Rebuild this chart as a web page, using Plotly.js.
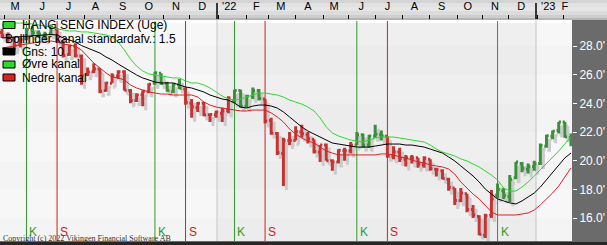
<!DOCTYPE html>
<html>
<head>
<meta charset="utf-8">
<script src="https://cdn.plot.ly/plotly-3.0.1.min.js"></script>
<style>
html,body{margin:0;padding:0;background:#6b6b6b;}
#chart{width:607px;height:245px;}
</style>
</head>
<body>
<div id="chart"></div>
<script>
// ---------- DATA (weekly bars, values in thousands) ----------
const weeks = ['2021-04-30','2021-05-07','2021-05-14','2021-05-21','2021-05-28','2021-06-04','2021-06-11','2021-06-18','2021-06-25','2021-07-02','2021-07-09','2021-07-16','2021-07-23','2021-07-30','2021-08-06','2021-08-13','2021-08-20','2021-08-27','2021-09-03','2021-09-10','2021-09-17','2021-09-24','2021-10-01','2021-10-08','2021-10-15','2021-10-22','2021-10-29','2021-11-05','2021-11-12','2021-11-19','2021-11-26','2021-12-03','2021-12-10','2021-12-17','2021-12-24','2021-12-31','2022-01-07','2022-01-14','2022-01-21','2022-01-28','2022-02-04','2022-02-11','2022-02-18','2022-02-25','2022-03-04','2022-03-11','2022-03-18','2022-03-25','2022-04-01','2022-04-08','2022-04-15','2022-04-22','2022-04-29','2022-05-06','2022-05-13','2022-05-20','2022-05-27','2022-06-03','2022-06-10','2022-06-17','2022-06-24','2022-07-01','2022-07-08','2022-07-15','2022-07-22','2022-07-29','2022-08-05','2022-08-12','2022-08-19','2022-08-26','2022-09-02','2022-09-09','2022-09-16','2022-09-23','2022-09-30','2022-10-07','2022-10-14','2022-10-21','2022-10-28','2022-11-04','2022-11-11','2022-11-18','2022-11-25','2022-12-02','2022-12-09','2022-12-16','2022-12-23','2022-12-30','2023-01-06','2023-01-13','2023-01-20','2023-01-27','2023-02-03','2023-02-10'];

const open = [28.95, 28.70,28.50,28.10,28.50, 29.10,28.90,28.75,28.85, 29.20,28.30,27.40,28.00,27.30, 26.00,26.20,26.40,24.90, 25.40,25.90,26.20,24.90, 24.20,24.60,24.80,25.40,26.10, 25.40,24.80,25.30,25.00, 24.00,23.70,24.00,23.20,23.20,
  23.30,23.50,24.20,24.90, 23.80,24.50,24.90,24.30, 22.80,21.90,20.50,21.40, 21.40,22.00,21.80,21.50,20.60, 21.10,20.00,19.90,20.70, 20.70,21.10,21.80,21.10, 21.70,21.80,21.70,20.30,20.60, 20.10,20.20,20.20,19.70, 20.10,19.40,19.30,18.70,18.10, 17.20,17.70,16.60,16.10, 14.80,16.20,17.60,17.90, 17.50,18.80,19.80,19.40,19.60,
  19.80,21.00,21.70,22.10, 22.70,21.60];
const high = [29.20, 28.95,28.65,28.60,29.25, 29.40,29.10,29.00,29.50, 29.25,28.40,28.10,28.20,27.40, 26.50,26.80,26.40,25.50, 26.10,26.30,26.30,25.00, 24.70,24.90,25.40,26.20,26.10, 25.50,25.40,25.70,25.10, 24.30,24.10,24.10,23.30,23.50,
  23.70,24.50,24.95,24.95, 24.60,25.10,25.00,24.30, 23.00,22.00,21.60,22.00, 22.40,22.50,22.00,21.50,21.10, 21.20,20.10,20.80,20.90, 21.30,22.00,21.90,21.80, 22.50,22.10,21.70,21.00,20.90, 20.40,20.40,20.20,20.30, 20.10,19.50,19.40,18.80,18.10, 18.10,17.70,16.90,16.20, 16.30,17.95,18.40,18.10, 19.00,19.90,19.90,19.80,20.00,
  21.20,21.80,22.10,22.70, 22.70,21.90];
const low = [28.55, 28.20,27.70,27.90,28.40, 28.70,28.60,28.40,28.75, 28.30,27.20,27.30,27.20,25.30, 25.90,26.10,24.70,24.80, 25.40,25.70,24.90,24.00, 24.10,23.80,24.70,25.30,25.30, 24.80,24.70,25.00,23.90, 23.00,23.40,23.10,22.70,23.00,
  22.70,23.30,24.00,23.70, 23.70,24.30,24.20,22.60, 21.80,20.40,18.24,21.10, 21.40,21.60,21.20,20.50,19.90, 20.00,19.30,19.80,20.00, 20.50,21.10,20.90,20.90, 21.60,21.40,20.20,20.10,19.90, 19.60,19.80,19.50,19.50, 19.30,18.90,18.70,17.90,16.90, 17.10,16.40,16.00,14.80, 14.60,16.00,17.40,17.30, 17.10,18.70,19.20,19.10,19.30,
  19.70,20.90,21.50,21.90, 21.60,21.00];
const close = [28.72, 28.61,28.03,28.46,29.12, 28.92,28.84,28.80,29.29, 28.31,27.34,28.00,27.32,25.96, 26.18,26.39,24.85,25.41, 25.90,26.21,24.92,24.19, 24.58,24.84,25.33,26.13,25.38, 24.87,25.33,25.05,24.08, 23.77,24.00,23.19,23.22,23.40,
  23.49,24.38,24.90,23.80, 24.50,24.90,24.33,22.77, 21.91,20.55,21.41,21.40, 22.04,21.87,21.52,20.64,21.09, 20.00,19.90,20.72,20.70, 21.08,21.81,21.08,21.72, 21.86,21.73,20.30,20.61,20.16, 20.20,20.18,19.77,20.17, 19.45,19.36,18.76,18.15,17.22, 17.74,16.59,16.21,14.86, 16.16,17.33,17.99,17.57, 18.68,19.90,19.45,19.59,19.78,
  21.05,21.74,22.05,22.69, 21.66,21.19];

// Gns: 10 (moving average)
const ma10 = [28.56, 28.59,28.63,28.63,28.66, 28.70,28.73,28.77,28.80, 28.77,28.56,28.42,28.28,28.03, 27.86,27.65,27.51,27.23, 27.02,26.74,26.47,26.19, 25.98,25.77,25.63,25.49,25.42, 25.42,25.42,25.28,25.14, 25.07,24.93,24.79,24.58,24.44,
  24.30,24.23,24.02,23.74, 23.67,23.81,23.88,23.88, 23.81,23.67,23.40,23.05, 22.70,22.35,22.07,21.86,21.65, 21.44,21.23,21.16,21.09, 21.02,20.95,20.95,20.95, 21.02,21.09,21.16,21.16,21.16, 21.09,21.09,21.02,20.95, 20.81,20.67,20.53,20.26,19.98, 19.63,19.28,18.93,18.51, 18.02,17.67,17.33,17.19, 17.05,16.98,17.19,17.47,17.74,
  18.16,18.65,19.21,19.63, 20.19,20.53];
// Øvre kanal (upper band)
const upperBand = [29.47, 29.53,29.60,29.60,29.60, 29.53,29.47,29.40,29.33, 29.19,29.12,29.05,29.05,28.98, 28.98,28.91,28.84,28.77, 28.63,28.28,27.72,27.09, 26.60,26.26,26.05,25.98,25.91, 25.84,25.77,25.77,25.56, 25.42,25.42,25.28,25.07,24.79,
  24.51,24.30,24.23,24.30, 24.44,24.58,24.72,24.72, 24.65,24.58,24.44,24.23, 24.09,23.95,23.74,23.47,22.98, 22.35,21.93,21.72,21.58, 21.44,21.37,21.30,21.44, 21.58,21.65,21.65,21.65,21.58, 21.51,21.44,21.37,21.30, 21.09,20.81,20.60,20.46,20.33, 20.12,19.98,19.77,19.56, 19.28,19.00,18.65,18.09, 17.88,17.88,18.16,18.51,18.93,
  19.35,19.77,20.26,20.67, 21.16,21.65];
// Nedre kanal (lower band)
const lowerBand = [27.86, 27.93,28.00,28.07,28.14, 28.21,28.28,28.28,28.35, 28.28,28.14,28.07,27.97,27.72, 27.30,26.81,26.47,26.12, 25.84,25.77,25.63,25.28, 25.07,24.93,24.79,24.72,24.65, 24.65,24.58,24.58,24.58, 24.58,24.44,24.09,23.88,23.74,
  23.67,23.60,23.53,23.47, 23.47,23.53,23.53,23.53, 23.33,23.05,22.70,22.21, 21.86,21.58,21.37,21.23,20.95, 20.67,20.53,20.40,20.40, 20.40,20.40,20.40,20.40, 20.40,20.47,20.47,20.40,20.26, 20.19,20.05,19.91,19.84, 19.70,19.63,19.56,19.42,19.07, 18.51,18.09,17.67,17.33, 16.84,16.42,16.21,16.21, 16.21,16.21,16.28,16.35,16.56,
  16.91,17.33,17.74,18.23, 18.86,19.49];

// Signals: K = buy, S = sell
const buyDates  = ['2021-05-28','2021-10-22','2022-01-21','2022-06-10','2022-11-18'];
const sellDates = ['2021-07-02','2021-11-26','2022-02-25','2022-07-15'];

// Axis labels
const monthLabelDates = ['2021-05-15','2021-06-15','2021-07-15','2021-08-15','2021-09-15','2021-10-15','2021-11-15','2021-12-15','2022-01-15','2022-02-15','2022-03-15','2022-04-15','2022-05-15','2022-06-15','2022-07-15','2022-08-15','2022-09-15','2022-10-15','2022-11-15','2022-12-15','2023-01-15','2023-02-03'];
const monthLabels = ['M','J','J','A','S','O','N','D',"'22",'F','M','A','M','J','J','A','S','O','N','D',"'23",'F'];
const monthTickDates = ['2021-05-03','2021-06-01','2021-07-02','2021-08-02','2021-09-01','2021-10-04','2021-11-01','2021-12-01','2022-01-03','2022-02-04','2022-03-01','2022-04-01','2022-05-03','2022-06-01','2022-07-01','2022-08-01','2022-09-01','2022-10-03','2022-11-01','2022-12-01','2023-01-03','2023-02-01'];
const yearStarts = ['2022-01-01','2023-01-01'];
const yTickVals = [16,18,20,22,24,26,28];
const yTickText = ["16.0'","18.0'","20.0'","22.0'","24.0'","26.0'","28.0'"];

// ---------- LAYOUT GEOMETRY ----------
const W = 607, H = 245, ML = 0, MR = 35, MT = 20, MB = 4;
const PW = W - ML - MR, PH = H - MT - MB;
const DAY = 86400000;
const pxPerDay = 319 / 365;
const refMs = Date.UTC(2022, 0, 1);
const x0ms = refMs - 217 / pxPerDay * DAY;
const x1ms = refMs + (PW - 217) / pxPerDay * DAY;
const fmt = ms => new Date(ms).toISOString().slice(0, 19).replace('T', ' ');
const ppu = 172 / 12;
const yMin = 28 - (H - MB - 46) / ppu, yMax = 28 + (46 - MT) / ppu;
const shX = 3, shY = 4; // shadow offset in px
const pX = px => (px - ML) / PW;
const pY = py => (H - MB - py) / PH;

const RED = '#c53434', GREEN = '#3b8f3b';

function regime(d) {
  let last = null, lastType = 'S';
  buyDates.forEach(b => { if (b <= d && (!last || b > last)) { last = b; lastType = 'K'; } });
  sellDates.forEach(s => { if (s <= d && (!last || s > last)) { last = s; lastType = 'S'; } });
  return lastType;
}
function subset(type) {
  const o = {x: [], open: [], high: [], low: [], close: []};
  weeks.forEach((w, i) => {
    if (regime(w) === type) {
      o.x.push(w); o.open.push(open[i]); o.high.push(high[i]); o.low.push(low[i]); o.close.push(close[i]);
    }
  });
  return o;
}
function ohlc(d, color, xa, ya, w) {
  return Object.assign({
    type: 'ohlc', xaxis: xa, yaxis: ya, hoverinfo: 'skip', showlegend: false,
    tickwidth: 0.36, line: {width: w},
    increasing: {line: {color: color, width: w}}, decreasing: {line: {color: color, width: w}}
  }, d);
}

const all = {x: weeks, open: open, high: high, low: low, close: close};
const traces = [
  ohlc(all, '#cbcbcb', 'x', 'y', 3),
  {type: 'scatter', mode: 'lines', x: weeks, y: upperBand, xaxis: 'x2', yaxis: 'y2', line: {color: '#2fd82f', width: 1}, hoverinfo: 'skip', showlegend: false},
  {type: 'scatter', mode: 'lines', x: weeks, y: lowerBand, xaxis: 'x2', yaxis: 'y2', line: {color: '#e02020', width: 1}, hoverinfo: 'skip', showlegend: false},
  {type: 'scatter', mode: 'lines', x: weeks, y: ma10, xaxis: 'x2', yaxis: 'y2', line: {color: '#000000', width: 1}, hoverinfo: 'skip', showlegend: false},
  ohlc(subset('S'), RED, 'x2', 'y2', 3),
  ohlc(subset('K'), GREEN, 'x2', 'y2', 3)
];

// ---------- SHAPES ----------
const shapes = [];
shapes.push({type: 'rect', xref: 'x2', yref: 'paper', x0: yearStarts[0], x1: yearStarts[1], y0: 0, y1: 1, fillcolor: 'rgba(0,0,0,0.03)', line: {width: 0}, layer: 'below'});
const bandEdges = [yMin].concat(yTickVals).concat([yMax]);
for (let i = 0; i < bandEdges.length - 1; i += 2) {
  shapes.push({type: 'rect', xref: 'paper', yref: 'y2', x0: 0, x1: 1, y0: bandEdges[i], y1: bandEdges[i + 1], fillcolor: 'rgba(0,0,0,0.012)', line: {width: 0}, layer: 'below'});
}
shapes.push({type: 'rect', xref: 'paper', yref: 'paper', x0: 0, x1: 1, y0: pY(23), y1: 1, fillcolor: '#ffffff', line: {width: 0}, layer: 'below'});
yearStarts.forEach(d => shapes.push({type: 'line', xref: 'x2', yref: 'paper', x0: d, x1: d, y0: 0, y1: 1, line: {color: '#c4c4c4', width: 1}, layer: 'below'}));
buyDates.forEach(d => shapes.push({type: 'line', xref: 'x2', yref: 'paper', x0: d, x1: d, y0: 0, y1: pY(MT + 1), line: {color: '#2f9a2f', width: 1}, layer: 'below'}));
sellDates.forEach(d => shapes.push({type: 'line', xref: 'x2', yref: 'paper', x0: d, x1: d, y0: 0, y1: pY(MT + 1), line: {color: '#d02020', width: 1}, layer: 'below'}));
const strips = [[0, 3, '#d4d4d4'], [3, 7, '#e2e2e2'], [7, 11, '#e6e6e6'], [11, 15, '#dcdcdc'], [15, 18, '#cecece'], [18, 20, '#b4b4b4']];
strips.forEach(s => shapes.push({type: 'rect', xref: 'paper', yref: 'paper', x0: pX(0), x1: pX(W), y0: pY(s[1]), y1: pY(s[0]), fillcolor: s[2], line: {width: 0}, layer: 'below'}));
yearStarts.forEach(d => shapes.push({type: 'line', xref: 'x2', yref: 'paper', x0: d, x1: d, y0: pY(19), y1: pY(3), line: {color: '#000', width: 1.5}, layer: 'above'}));
shapes.push({type: 'rect', xref: 'paper', yref: 'paper', x0: pX(0), x1: pX(W), y0: pY(H), y1: pY(H - MB + 1), fillcolor: '#262626', line: {width: 0}, layer: 'above'});
const legendRows = [25, 38.5, 51.5, 64.5, 77.5];
const boxes = [[0, '#2fd82f'], [2, '#000000'], [3, '#2fd82f'], [4, '#e02020']];
boxes.forEach(b => shapes.push({type: 'rect', xref: 'paper', yref: 'paper', x0: pX(3), x1: pX(15), y0: pY(legendRows[b[0]] + 3.5), y1: pY(legendRows[b[0]] - 3.5), fillcolor: b[1], line: {color: '#000', width: 1}, layer: 'above'}));

// ---------- ANNOTATIONS ----------
const annotations = [];
const legendTexts = [[0, 20, 'HANG SENG INDEX (Uge)'], [1, 3, 'Bollinger kanal standardafv.: 1.5'], [2, 20, 'Gns: 10'], [3, 20, 'Øvre kanal'], [4, 20, 'Nedre kanal']];
legendTexts.forEach(t => annotations.push({xref: 'paper', yref: 'paper', x: pX(t[1]), y: pY(legendRows[t[0]]), text: t[2], showarrow: false, xanchor: 'left', yanchor: 'middle', font: {size: 12, color: '#000'}}));
buyDates.forEach(d => annotations.push({xref: 'x2', yref: 'paper', x: d, y: pY(232), text: 'K', showarrow: false, xanchor: 'left', yanchor: 'middle', xshift: 1, font: {size: 12, color: '#2f9a2f'}}));
sellDates.forEach(d => annotations.push({xref: 'x2', yref: 'paper', x: d, y: pY(232), text: 'S', showarrow: false, xanchor: 'left', yanchor: 'middle', xshift: 1, font: {size: 12, color: '#d02020'}}));
annotations.push({xref: 'paper', yref: 'paper', x: pX(1), y: pY(238), text: 'Copyright (c) 2022 Vikingen Financial Software AB', showarrow: false, xanchor: 'left', yanchor: 'middle', font: {family: 'Liberation Serif, Times New Roman, serif', size: 8, color: '#333'}});

const layout = {
  width: W, height: H,
  margin: {l: ML, r: MR, t: MT, b: MB, pad: 0},
  paper_bgcolor: '#6b6b6b',
  plot_bgcolor: '#f7f7f7',
  font: {family: 'Liberation Sans, Arial, sans-serif', size: 12, color: '#000'},
  showlegend: false,
  xaxis: {type: 'date', range: [fmt(x0ms - shX / pxPerDay * DAY), fmt(x1ms - shX / pxPerDay * DAY)], visible: false, rangeslider: {visible: false}, fixedrange: true},
  yaxis: {range: [yMin + shY / ppu, yMax + shY / ppu], visible: false, fixedrange: true},
  xaxis2: {
    type: 'date', overlaying: 'x', anchor: 'y2', side: 'top',
    range: [fmt(x0ms), fmt(x1ms)], rangeslider: {visible: false},
    tickmode: 'array', tickvals: monthLabelDates, ticktext: monthLabels,
    ticks: 'outside', ticklen: 5, tickcolor: 'rgba(0,0,0,0)',
    tickfont: {size: 11, color: '#000'},
    minor: {tickmode: 'array', tickvals: monthTickDates, ticks: 'outside', ticklen: 4, tickcolor: '#000', tickwidth: 1, showgrid: false},
    showgrid: false, zeroline: false, showline: false, fixedrange: true
  },
  yaxis2: {
    overlaying: 'y', anchor: 'x2', side: 'right',
    range: [yMin, yMax],
    tickmode: 'array', tickvals: yTickVals, ticktext: yTickText,
    ticks: 'outside', ticklen: 4, tickcolor: '#ffffff', tickwidth: 1,
    tickfont: {size: 12, color: '#ffffff'},
    showgrid: false, zeroline: false, showline: false, fixedrange: true
  },
  shapes: shapes,
  annotations: annotations
};

Plotly.newPlot('chart', traces, layout, {displayModeBar: false, staticPlot: true});
</script>
</body>
</html>
